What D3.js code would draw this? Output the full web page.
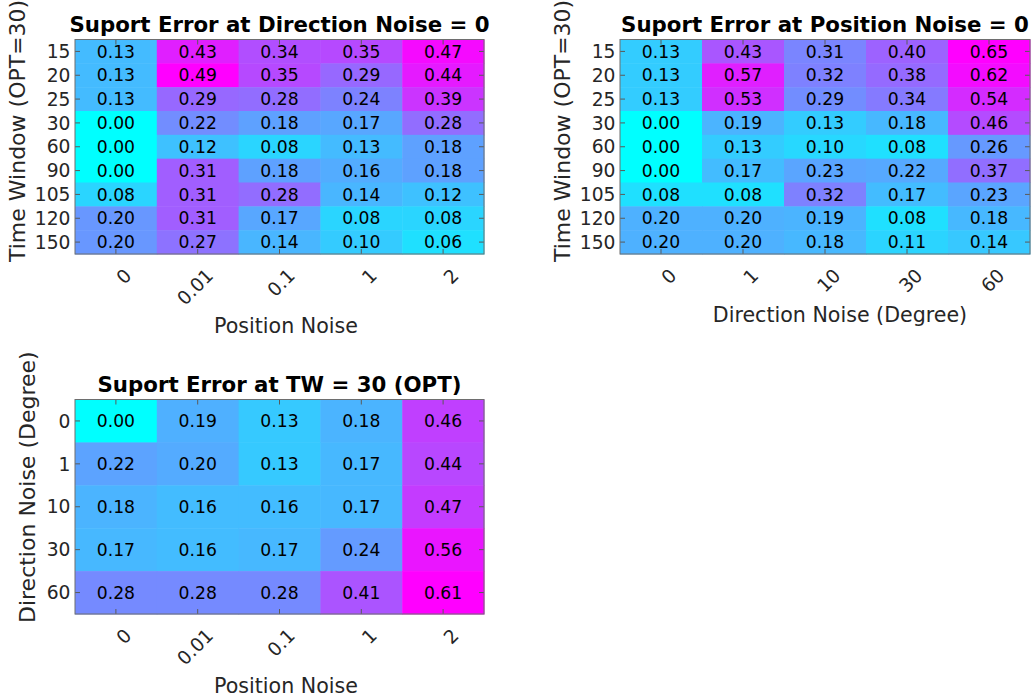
<!DOCTYPE html>
<html>
<head>
<meta charset="utf-8">
<script src="https://cdn.jsdelivr.net/npm/d3@7"></script>
<style>
  html, body { margin: 0; padding: 0; background: #fff; }
  svg { display: block; font-family: "DejaVu Sans", Verdana, sans-serif; }
</style>
</head>
<body>
<svg id="chart" width="1036" height="699"></svg>
<script>
// Tick labels
const timeWindows = ["15", "20", "25", "30", "60", "90", "105", "120", "150"];
const positionNoise = ["0", "0.01", "0.1", "1", "2"];
const directionNoise = ["0", "1", "10", "30", "60"];

// Support error, rows = time window, cols = position noise (direction noise = 0)
const errTwByPos = [
  [0.13, 0.43, 0.34, 0.35, 0.47],
  [0.13, 0.49, 0.35, 0.29, 0.44],
  [0.13, 0.29, 0.28, 0.24, 0.39],
  [0.00, 0.22, 0.18, 0.17, 0.28],
  [0.00, 0.12, 0.08, 0.13, 0.18],
  [0.00, 0.31, 0.18, 0.16, 0.18],
  [0.08, 0.31, 0.28, 0.14, 0.12],
  [0.20, 0.31, 0.17, 0.08, 0.08],
  [0.20, 0.27, 0.14, 0.10, 0.06]
];

// Support error, rows = time window, cols = direction noise (position noise = 0)
const errTwByDir = [
  [0.13, 0.43, 0.31, 0.40, 0.65],
  [0.13, 0.57, 0.32, 0.38, 0.62],
  [0.13, 0.53, 0.29, 0.34, 0.54],
  [0.00, 0.19, 0.13, 0.18, 0.46],
  [0.00, 0.13, 0.10, 0.08, 0.26],
  [0.00, 0.17, 0.23, 0.22, 0.37],
  [0.08, 0.08, 0.32, 0.17, 0.23],
  [0.20, 0.20, 0.19, 0.08, 0.18],
  [0.20, 0.20, 0.18, 0.11, 0.14]
];

// Support error, rows = direction noise, cols = position noise (TW = 30)
const errDirByPos = [
  [0.00, 0.19, 0.13, 0.18, 0.46],
  [0.22, 0.20, 0.13, 0.17, 0.44],
  [0.18, 0.16, 0.16, 0.17, 0.47],
  [0.17, 0.16, 0.17, 0.24, 0.56],
  [0.28, 0.28, 0.28, 0.41, 0.61]
];

const svg = d3.select("#chart");

// "cool" colormap: cyan -> magenta
const cool = t => d3.rgb(Math.round(255 * t), Math.round(255 * (1 - t)), 255).toString();

function heatmap(cfg) {
  const { left, top, right, bottom, rows, cols, values, title, xLabel, yLabel } = cfg;
  const g = svg.append("g");

  const x = d3.scaleBand().domain(cols).range([left, right]).padding(0);
  const y = d3.scaleBand().domain(rows).range([top, bottom]).padding(0);

  const flat = values.flat();
  const color = d3.scaleSequential(cool).domain([d3.min(flat), d3.max(flat)]);

  const cells = [];
  values.forEach((row, i) => row.forEach((v, j) => cells.push({ r: rows[i], c: cols[j], v })));

  g.selectAll("rect.cell").data(cells).join("rect")
    .attr("class", "cell")
    .attr("x", d => x(d.c))
    .attr("y", d => y(d.r))
    .attr("width", x.bandwidth() + 0.5)
    .attr("height", y.bandwidth() + 0.5)
    .attr("fill", d => color(d.v));

  g.selectAll("text.val").data(cells).join("text")
    .attr("class", "val")
    .attr("x", d => x(d.c) + x.bandwidth() / 2)
    .attr("y", d => y(d.r) + y.bandwidth() / 2)
    .attr("dy", "0.36em")
    .attr("text-anchor", "middle")
    .attr("font-size", 17.2)
    .attr("fill", "#000")
    .text(d => d.v.toFixed(2));

  const tickCol = "#5a5a5a";
  const styleAxis = sel => {
    sel.select(".domain").remove();
    sel.selectAll(".tick line").attr("stroke", tickCol);
    sel.selectAll(".tick text").attr("fill", "#262626").attr("font-size", 18.7)
      .attr("font-family", "DejaVu Sans, Verdana, sans-serif");
  };

  // left axis with labels, inward ticks
  g.append("g").attr("transform", `translate(${left},0)`)
    .call(d3.axisLeft(y).tickSizeInner(-5).tickSizeOuter(0).tickPadding(5))
    .call(styleAxis)
    .call(s => s.selectAll(".tick text").attr("x", -4.5).attr("dy", "0.36em"));

  // right axis, ticks only
  g.append("g").attr("transform", `translate(${right},0)`)
    .call(d3.axisRight(y).tickSizeInner(-5).tickSizeOuter(0).tickFormat(""))
    .call(styleAxis);

  // top axis, ticks only
  g.append("g").attr("transform", `translate(0,${top})`)
    .call(d3.axisTop(x).tickSizeInner(-5).tickSizeOuter(0).tickFormat(""))
    .call(styleAxis);

  // bottom axis with rotated labels
  g.append("g").attr("transform", `translate(0,${bottom})`)
    .call(d3.axisBottom(x).tickSizeInner(-5).tickSizeOuter(0))
    .call(styleAxis)
    .call(s => s.selectAll(".tick text")
      .attr("x", 0).attr("y", 0).attr("dy", "0.36em")
      .attr("text-anchor", "end")
      .attr("transform", "translate(12,18) rotate(-45)"));

  // frame
  g.append("rect")
    .attr("x", left).attr("y", top)
    .attr("width", right - left).attr("height", bottom - top)
    .attr("fill", "none").attr("stroke", "#6e6e6e").attr("stroke-width", 1);

  // title
  g.append("text")
    .attr("x", (left + right) / 2).attr("y", top - 8)
    .attr("text-anchor", "middle")
    .attr("font-size", 21.3).attr("font-weight", "bold").attr("fill", "#000")
    .text(title);

  // x label
  g.append("text")
    .attr("x", xLabel.x).attr("y", xLabel.y)
    .attr("text-anchor", "middle")
    .attr("font-size", 20.6).attr("fill", "#262626")
    .text(xLabel.text);

  // y label
  g.append("text")
    .attr("transform", `translate(${yLabel.x},${yLabel.y}) rotate(-90)`)
    .attr("text-anchor", "start")
    .attr("font-size", 22).attr("fill", "#262626")
    .text(yLabel.text);
}

heatmap({
  left: 75, top: 39.5, right: 484, bottom: 254,
  rows: timeWindows, cols: positionNoise, values: errTwByPos,
  title: "Suport Error at Direction Noise = 0",
  xLabel: { text: "Position Noise", x: 286, y: 333 },
  yLabel: { text: "Time Window (OPT=30)", x: 25, y: 262 }
});

heatmap({
  left: 620, top: 39.5, right: 1030, bottom: 254,
  rows: timeWindows, cols: directionNoise, values: errTwByDir,
  title: "Suport Error at Position Noise = 0",
  xLabel: { text: "Direction Noise (Degree)", x: 840, y: 322 },
  yLabel: { text: "Time Window (OPT=30)", x: 570, y: 262 }
});

heatmap({
  left: 75, top: 399.5, right: 484, bottom: 614,
  rows: directionNoise, cols: positionNoise, values: errDirByPos,
  title: "Suport Error at TW = 30 (OPT)",
  xLabel: { text: "Position Noise", x: 286, y: 693 },
  yLabel: { text: "Direction Noise (Degree)", x: 35, y: 623 }
});
</script>
</body>
</html>
